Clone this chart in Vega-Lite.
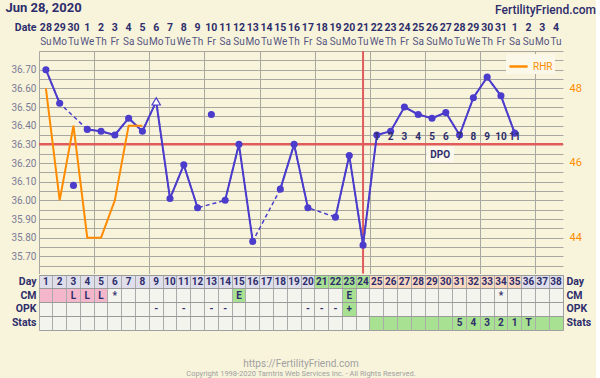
{
  "$schema": "https://vega.github.io/schema/vega-lite/v6.json",
  "background": "#f8f4dc",
  "padding": {"left": 5, "top": 2, "right": 0, "bottom": 0},
  "spacing": -3,
  "title": {"text": "Jun 28, 2020", "anchor": "start", "fontSize": 13, "fontWeight": "bold", "color": "#2e2d6b", "offset": -11, "dx": -5.5},
  "resolve": {"scale": {"stroke": "independent", "fill": "independent"}, "legend": {"stroke": "independent", "fill": "independent"}},
  "datasets": {
    "temps": [
      {"day": 1, "temp": 36.70, "run": "a", "kind": "dot"},
      {"day": 2, "temp": 36.52, "run": "a", "kind": "dot"},
      {"day": 3, "temp": 36.08, "kind": "excluded"},
      {"day": 4, "temp": 36.38, "run": "b", "kind": "dot"},
      {"day": 5, "temp": 36.37, "run": "b", "kind": "dot"},
      {"day": 6, "temp": 36.35, "run": "b", "kind": "dot"},
      {"day": 7, "temp": 36.44, "run": "b", "kind": "dot"},
      {"day": 8, "temp": 36.37, "run": "b", "kind": "dot"},
      {"day": 9, "temp": 36.53, "run": "b", "kind": "open"},
      {"day": 10, "temp": 36.01, "run": "b", "kind": "dot"},
      {"day": 11, "temp": 36.19, "run": "b", "kind": "dot"},
      {"day": 12, "temp": 35.96, "run": "b", "kind": "dot"},
      {"day": 13, "temp": 36.46, "kind": "excluded"},
      {"day": 14, "temp": 36.00, "run": "c", "kind": "dot"},
      {"day": 15, "temp": 36.30, "run": "c", "kind": "dot"},
      {"day": 16, "temp": 35.78, "run": "c", "kind": "dot"},
      {"day": 18, "temp": 36.06, "run": "d", "kind": "dot"},
      {"day": 19, "temp": 36.30, "run": "d", "kind": "dot"},
      {"day": 20, "temp": 35.96, "run": "d", "kind": "dot"},
      {"day": 22, "temp": 35.91, "run": "e", "kind": "dot"},
      {"day": 23, "temp": 36.24, "run": "e", "kind": "dot"},
      {"day": 24, "temp": 35.76, "run": "e", "kind": "dot"},
      {"day": 25, "temp": 36.35, "run": "e", "kind": "dot", "dpo": 1},
      {"day": 26, "temp": 36.37, "run": "e", "kind": "dot", "dpo": 2},
      {"day": 27, "temp": 36.50, "run": "e", "kind": "dot", "dpo": 3},
      {"day": 28, "temp": 36.46, "run": "e", "kind": "dot", "dpo": 4},
      {"day": 29, "temp": 36.44, "run": "e", "kind": "dot", "dpo": 5},
      {"day": 30, "temp": 36.47, "run": "e", "kind": "dot", "dpo": 6},
      {"day": 31, "temp": 36.35, "run": "e", "kind": "dot", "dpo": 7},
      {"day": 32, "temp": 36.55, "run": "e", "kind": "dot", "dpo": 8},
      {"day": 33, "temp": 36.66, "run": "e", "kind": "dot", "dpo": 9},
      {"day": 34, "temp": 36.56, "run": "e", "kind": "dot", "dpo": 10},
      {"day": 35, "temp": 36.36, "run": "e", "kind": "dot", "dpo": 11}
    ],
    "markers": [
      {"coverline": 36.30, "ovulation": 24}
    ],
    "rhr": [
      {"day": 1, "rhr": 48}, {"day": 2, "rhr": 45}, {"day": 3, "rhr": 47}, {"day": 4, "rhr": 44},
      {"day": 5, "rhr": 44}, {"day": 6, "rhr": 45}, {"day": 7, "rhr": 47}, {"day": 8, "rhr": 47}
    ],
    "header": [
      {"day": 1, "date": "28", "wd": "Su"}, {"day": 2, "date": "29", "wd": "Mo"}, {"day": 3, "date": "30", "wd": "Tu"},
      {"day": 4, "date": "1", "wd": "We"}, {"day": 5, "date": "2", "wd": "Th"}, {"day": 6, "date": "3", "wd": "Fr"},
      {"day": 7, "date": "4", "wd": "Sa"}, {"day": 8, "date": "5", "wd": "Su"}, {"day": 9, "date": "6", "wd": "Mo"},
      {"day": 10, "date": "7", "wd": "Tu"}, {"day": 11, "date": "8", "wd": "We"}, {"day": 12, "date": "9", "wd": "Th"},
      {"day": 13, "date": "10", "wd": "Fr"}, {"day": 14, "date": "11", "wd": "Sa"}, {"day": 15, "date": "12", "wd": "Su"},
      {"day": 16, "date": "13", "wd": "Mo"}, {"day": 17, "date": "14", "wd": "Tu"}, {"day": 18, "date": "15", "wd": "We"},
      {"day": 19, "date": "16", "wd": "Th"}, {"day": 20, "date": "17", "wd": "Fr"}, {"day": 21, "date": "18", "wd": "Sa"},
      {"day": 22, "date": "19", "wd": "Su"}, {"day": 23, "date": "20", "wd": "Mo"}, {"day": 24, "date": "21", "wd": "Tu"},
      {"day": 25, "date": "22", "wd": "We"}, {"day": 26, "date": "23", "wd": "Th"}, {"day": 27, "date": "24", "wd": "Fr"},
      {"day": 28, "date": "25", "wd": "Sa"}, {"day": 29, "date": "26", "wd": "Su"}, {"day": 30, "date": "27", "wd": "Mo"},
      {"day": 31, "date": "28", "wd": "Tu"}, {"day": 32, "date": "29", "wd": "We"}, {"day": 33, "date": "30", "wd": "Th"},
      {"day": 34, "date": "31", "wd": "Fr"}, {"day": 35, "date": "1", "wd": "Sa"}, {"day": 36, "date": "2", "wd": "Su"},
      {"day": 37, "date": "3", "wd": "Mo"}, {"day": 38, "date": "4", "wd": "Tu"}
    ],
    "table": [
      {"day": 1, "row": "Day", "fill": "grey", "label": "1"}, {"day": 2, "row": "Day", "fill": "grey", "label": "2"},
      {"day": 3, "row": "Day", "fill": "grey", "label": "3"}, {"day": 4, "row": "Day", "fill": "grey", "label": "4"},
      {"day": 5, "row": "Day", "fill": "grey", "label": "5"}, {"day": 6, "row": "Day", "fill": "grey", "label": "6"},
      {"day": 7, "row": "Day", "fill": "grey", "label": "7"}, {"day": 8, "row": "Day", "fill": "grey", "label": "8"},
      {"day": 9, "row": "Day", "fill": "grey", "label": "9"}, {"day": 10, "row": "Day", "fill": "grey", "label": "10"},
      {"day": 11, "row": "Day", "fill": "grey", "label": "11"}, {"day": 12, "row": "Day", "fill": "grey", "label": "12"},
      {"day": 13, "row": "Day", "fill": "grey", "label": "13"}, {"day": 14, "row": "Day", "fill": "grey", "label": "14"},
      {"day": 15, "row": "Day", "fill": "grey", "label": "15"}, {"day": 16, "row": "Day", "fill": "grey", "label": "16"},
      {"day": 17, "row": "Day", "fill": "grey", "label": "17"}, {"day": 18, "row": "Day", "fill": "grey", "label": "18"},
      {"day": 19, "row": "Day", "fill": "grey", "label": "19"}, {"day": 20, "row": "Day", "fill": "grey", "label": "20"},
      {"day": 21, "row": "Day", "fill": "green", "label": "21"}, {"day": 22, "row": "Day", "fill": "green", "label": "22"},
      {"day": 23, "row": "Day", "fill": "green", "label": "23"}, {"day": 24, "row": "Day", "fill": "green", "label": "24"},
      {"day": 25, "row": "Day", "fill": "peach", "label": "25"}, {"day": 26, "row": "Day", "fill": "peach", "label": "26"},
      {"day": 27, "row": "Day", "fill": "peach", "label": "27"}, {"day": 28, "row": "Day", "fill": "peach", "label": "28"},
      {"day": 29, "row": "Day", "fill": "peach", "label": "29"}, {"day": 30, "row": "Day", "fill": "peach", "label": "30"},
      {"day": 31, "row": "Day", "fill": "peach", "label": "31"}, {"day": 32, "row": "Day", "fill": "peach", "label": "32"},
      {"day": 33, "row": "Day", "fill": "peach", "label": "33"}, {"day": 34, "row": "Day", "fill": "peach", "label": "34"},
      {"day": 35, "row": "Day", "fill": "peach", "label": "35"}, {"day": 36, "row": "Day", "fill": "grey", "label": "36"},
      {"day": 37, "row": "Day", "fill": "grey", "label": "37"}, {"day": 38, "row": "Day", "fill": "grey", "label": "38"},
      {"day": 1, "row": "CM", "fill": "pink"}, {"day": 2, "row": "CM", "fill": "pink"},
      {"day": 3, "row": "CM", "fill": "pink", "label": "L"}, {"day": 4, "row": "CM", "fill": "pink", "label": "L"},
      {"day": 5, "row": "CM", "fill": "pink", "label": "L"}, {"day": 6, "row": "CM", "label": "*"},
      {"day": 15, "row": "CM", "fill": "green", "label": "E"}, {"day": 23, "row": "CM", "fill": "green", "label": "E"},
      {"day": 34, "row": "CM", "label": "*"},
      {"day": 9, "row": "OPK", "label": "-"}, {"day": 11, "row": "OPK", "label": "-"}, {"day": 13, "row": "OPK", "label": "-"},
      {"day": 14, "row": "OPK", "label": "-"}, {"day": 20, "row": "OPK", "label": "-"}, {"day": 21, "row": "OPK", "label": "-"},
      {"day": 22, "row": "OPK", "label": "-"}, {"day": 23, "row": "OPK", "fill": "green", "label": "+"},
      {"day": 25, "row": "Stats", "fill": "green"}, {"day": 26, "row": "Stats", "fill": "green"},
      {"day": 27, "row": "Stats", "fill": "green"}, {"day": 28, "row": "Stats", "fill": "green"},
      {"day": 29, "row": "Stats", "fill": "green"}, {"day": 30, "row": "Stats", "fill": "green"},
      {"day": 31, "row": "Stats", "fill": "green", "label": "5"}, {"day": 32, "row": "Stats", "fill": "green", "label": "4"},
      {"day": 33, "row": "Stats", "fill": "green", "label": "3"}, {"day": 34, "row": "Stats", "fill": "green", "label": "2"},
      {"day": 35, "row": "Stats", "fill": "green", "label": "1"}, {"day": 36, "row": "Stats", "fill": "green", "label": "T"},
      {"day": 37, "row": "Stats", "fill": "green"}, {"day": 38, "row": "Stats", "fill": "green"}
    ]
  },
  "vconcat": [
    {
      "width": 524,
      "height": 27.4,
      "data": {"name": "header"},
      "view": {"stroke": null, "fill": null},
      "title": {"text": "FertilityFriend.com", "anchor": "end", "fontSize": 12, "fontWeight": 500, "color": "#2e2d6b", "offset": 4, "dx": 33},
      "layer": [
        {
          "mark": {"type": "text", "fontWeight": "bold", "fontSize": 10.5, "color": "#2e2d6b"},
          "encoding": {
            "x": {"field": "day", "type": "ordinal", "scale": {"type": "band", "domain": [1,2,3,4,5,6,7,8,9,10,11,12,13,14,15,16,17,18,19,20,21,22,23,24,25,26,27,28,29,30,31,32,33,34,35,36,37,38], "paddingInner": 0, "paddingOuter": 0}, "axis": null},
            "y": {"datum": "d", "type": "nominal", "scale": {"type": "band", "domain": ["d", "w"], "paddingInner": 0, "paddingOuter": 0},
                  "axis": {"labelExpr": "datum.value == 'd' ? 'Date' : ''", "ticks": false, "domain": false, "grid": false, "title": null, "labelFontWeight": "bold", "labelColor": "#2e2d6b", "labelFontSize": 10.5, "labelPadding": 3}},
            "text": {"field": "date"}
          }
        },
        {
          "mark": {"type": "text", "fontSize": 10, "color": "#55557f"},
          "encoding": {
            "x": {"field": "day", "type": "ordinal", "scale": {"type": "band", "domain": [1,2,3,4,5,6,7,8,9,10,11,12,13,14,15,16,17,18,19,20,21,22,23,24,25,26,27,28,29,30,31,32,33,34,35,36,37,38], "paddingInner": 0, "paddingOuter": 0}, "axis": null},
            "y": {"datum": "w", "type": "nominal", "scale": {"type": "band", "domain": ["d", "w"], "paddingInner": 0, "paddingOuter": 0},
                  "axis": {"labelExpr": "datum.value == 'd' ? 'Date' : ''", "ticks": false, "domain": false, "grid": false, "title": null, "labelFontWeight": "bold", "labelColor": "#2e2d6b", "labelFontSize": 10.5, "labelPadding": 3}},
            "text": {"field": "wd"}
          }
        }
      ]
    },
    {
      "width": 524,
      "height": 222.6,
      "view": {"fill": "#f8f4dc", "stroke": null},
      "layer": [
        {
          "data": {"name": "markers"},
          "mark": {"type": "rule", "color": "#e05c5c", "strokeWidth": 2.5},
          "encoding": {
            "y": {"field": "coverline", "type": "quantitative", "scale": {"domain": [35.6075, 36.8], "nice": false, "zero": false},
                  "axis": {"orient": "left", "values": [35.65,35.7,35.75,35.8,35.85,35.9,35.95,36.0,36.05,36.1,36.15,36.2,36.25,36.3,36.35,36.4,36.45,36.5,36.55,36.6,36.65,36.7,36.75,36.8],
                           "labelExpr": "datum.value < 36.78 && round(datum.value * 100) % 10 == 0 ? format(datum.value, '.2f') : ''",
                           "labelOverlap": false, "grid": true, "gridColor": "#a8a8a0", "ticks": false, "domain": false, "title": null,
                           "labelColor": "#7b7b95", "labelFontSize": 10, "labelPadding": 3}}
          }
        },
        {
          "data": {"name": "markers"},
          "mark": {"type": "rule", "color": "#e05c5c", "strokeWidth": 2},
          "encoding": {
            "x": {"field": "ovulation", "type": "quantitative", "scale": {"domain": [0.5, 38.5], "nice": false, "zero": false},
                  "axis": {"orient": "bottom", "values": [0.5,1.5,2.5,3.5,4.5,5.5,6.5,7.5,8.5,9.5,10.5,11.5,12.5,13.5,14.5,15.5,16.5,17.5,18.5,19.5,20.5,21.5,22.5,23.5,24.5,25.5,26.5,27.5,28.5,29.5,30.5,31.5,32.5,33.5,34.5,35.5,36.5,37.5,38.47], "grid": true, "gridColor": "#a8a8a0", "labels": false, "ticks": false, "domain": false, "title": null, "minExtent": 0, "maxExtent": 0}}
          }
        },
        {
          "data": {"name": "temps"},
          "transform": [{"filter": "datum.kind != 'excluded'"}],
          "mark": {"type": "line", "color": "#4b3ccc", "strokeWidth": 1.5, "strokeDash": [4, 3]},
          "encoding": {
            "x": {"field": "day", "type": "quantitative"},
            "y": {"field": "temp", "type": "quantitative", "scale": {"domain": [35.6075, 36.8], "nice": false, "zero": false}, "axis": null}
          }
        },
        {
          "data": {"name": "temps"},
          "transform": [{"filter": "datum.kind != 'excluded'"}],
          "mark": {"type": "line", "color": "#4b3ccc", "strokeWidth": 2},
          "encoding": {
            "x": {"field": "day", "type": "quantitative"},
            "y": {"field": "temp", "type": "quantitative", "scale": {"domain": [35.6075, 36.8], "nice": false, "zero": false}, "axis": null},
            "detail": {"field": "run"}
          }
        },
        {
          "data": {"name": "temps"},
          "transform": [{"filter": "datum.kind != 'open'"}],
          "mark": {"type": "circle", "color": "#4b3ccc", "size": 50, "opacity": 1},
          "encoding": {
            "x": {"field": "day", "type": "quantitative"},
            "y": {"field": "temp", "type": "quantitative", "scale": {"domain": [35.6075, 36.8], "nice": false, "zero": false}, "axis": null}
          }
        },
        {
          "data": {"name": "temps"},
          "transform": [{"filter": "datum.kind == 'open'"}],
          "mark": {"type": "point", "shape": "triangle-up", "filled": true, "fill": "#ffffff", "stroke": "#4b3ccc", "strokeWidth": 1.2, "size": 70, "opacity": 1},
          "encoding": {
            "x": {"field": "day", "type": "quantitative"},
            "y": {"field": "temp", "type": "quantitative", "scale": {"domain": [35.6075, 36.8], "nice": false, "zero": false}, "axis": null}
          }
        },
        {
          "data": {"name": "temps"},
          "transform": [{"filter": "isValid(datum.dpo)"}],
          "mark": {"type": "text", "fontWeight": "bold", "fontSize": 10, "color": "#2e2d6b", "baseline": "middle"},
          "encoding": {
            "x": {"field": "day", "type": "quantitative"},
            "y": {"datum": 36.34, "type": "quantitative", "scale": {"domain": [35.6075, 36.8], "nice": false, "zero": false}, "axis": null},
            "text": {"field": "dpo"}
          }
        },
        {
          "data": {"values": [{"t": "DPO"}]},
          "mark": {"type": "rect", "fill": "#fcf9ec"},
          "encoding": {
            "x": {"datum": 28.6, "type": "quantitative"},
            "x2": {"datum": 30.6},
            "y": {"datum": 36.288, "type": "quantitative", "scale": {"domain": [35.6075, 36.8], "nice": false, "zero": false}, "axis": null},
            "y2": {"datum": 36.205}
          }
        },
        {
          "data": {"values": [{"t": "DPO"}]},
          "mark": {"type": "text", "fontWeight": "bold", "fontSize": 10, "color": "#2e2d6b", "baseline": "middle"},
          "encoding": {
            "x": {"datum": 29.6, "type": "quantitative"},
            "y": {"datum": 36.245, "type": "quantitative", "scale": {"domain": [35.6075, 36.8], "nice": false, "zero": false}, "axis": null},
            "text": {"field": "t"}
          }
        },
        {
          "data": {"name": "rhr"},
          "mark": {"type": "line", "strokeWidth": 2},
          "encoding": {
            "x": {"field": "day", "type": "quantitative"},
            "y": {"field": "rhr", "type": "quantitative", "scale": {"domain": [43.037, 49], "nice": false, "zero": false},
                  "axis": {"orient": "right", "values": [44, 46, 48], "grid": false, "ticks": false, "domain": false, "title": null, "labelColor": "#ff8c00", "labelFontSize": 11, "labelPadding": 6}},
            "stroke": {"datum": "RHR", "type": "nominal", "scale": {"range": ["#ff8c00"]},
                       "legend": {"orient": "none", "legendX": 467, "legendY": 3, "title": null, "symbolType": "stroke", "symbolStrokeWidth": 2.5, "symbolSize": 330, "labelColor": "#ff8c00", "labelFontSize": 10, "fillColor": "#fbf8ea", "padding": 2}}
          }
        }
      ],
      "resolve": {"scale": {"y": "independent"}}
    },
    {
      "width": 524,
      "height": 55,
      "data": {"name": "table"},
      "view": {"fill": "#f4f4ee", "stroke": "#a0a0a0"},
      "title": {"text": "https://FertilityFriend.com", "subtitle": "Copyright 1998-2020 Tamtris Web Services Inc. - All Rights Reserved.", "orient": "bottom", "anchor": "middle", "fontSize": 10, "fontWeight": "normal", "color": "#a0a0a0", "subtitleFontSize": 7.5, "subtitleColor": "#a0a0a0", "subtitlePadding": 1, "offset": 29},
      "layer": [
        {
          "transform": [{"filter": "datum.fill != null"}],
          "mark": {"type": "rect"},
          "encoding": {
            "x": {"field": "day", "type": "ordinal", "scale": {"type": "band", "domain": [1,2,3,4,5,6,7,8,9,10,11,12,13,14,15,16,17,18,19,20,21,22,23,24,25,26,27,28,29,30,31,32,33,34,35,36,37,38], "paddingInner": 0, "paddingOuter": 0},
                  "axis": {"grid": true, "bandPosition": 0, "gridColor": "#ababab", "labels": false, "ticks": false, "domain": false, "title": null, "zindex": 1, "minExtent": 0, "maxExtent": 0}},
            "y": {"field": "row", "type": "nominal", "scale": {"type": "band", "domain": ["Day", "CM", "OPK", "Stats"], "paddingInner": 0, "paddingOuter": 0},
                  "axis": {"orient": "left", "grid": true, "bandPosition": 0, "gridColor": "#9a9a9a", "ticks": false, "domain": false, "title": null, "zindex": 1, "labelFontWeight": "bold", "labelColor": "#2e2d6b", "labelFontSize": 10.5, "labelPadding": 3}},
            "fill": {"field": "fill", "type": "nominal", "scale": {"domain": ["grey", "green", "peach", "pink"], "range": ["#dfdfeb", "#a9e192", "#fad9c3", "#f4b6ca"]}, "legend": null}
          }
        },
        {
          "transform": [{"filter": "datum.label != null"}],
          "mark": {"type": "text", "fontWeight": "bold", "fontSize": 10, "color": "#2e2d6b"},
          "encoding": {
            "x": {"field": "day", "type": "ordinal", "scale": {"type": "band", "domain": [1,2,3,4,5,6,7,8,9,10,11,12,13,14,15,16,17,18,19,20,21,22,23,24,25,26,27,28,29,30,31,32,33,34,35,36,37,38], "paddingInner": 0, "paddingOuter": 0},
                  "axis": {"grid": true, "bandPosition": 0, "gridColor": "#ababab", "labels": false, "ticks": false, "domain": false, "title": null, "zindex": 1, "minExtent": 0, "maxExtent": 0}},
            "y": {"field": "row", "type": "nominal", "scale": {"type": "band", "domain": ["Day", "CM", "OPK", "Stats"], "paddingInner": 0, "paddingOuter": 0},
                  "axis": {"orient": "right", "grid": false, "ticks": false, "domain": false, "title": null, "labelFontWeight": "bold", "labelColor": "#2e2d6b", "labelFontSize": 10.5, "labelPadding": 3}},
            "text": {"field": "label"}
          }
        }
      ],
      "resolve": {"scale": {"y": "independent"}}
    }
  ],
  "config": {
    "font": "Roboto",
    "axis": {"labelFont": "Roboto"},
    "title": {"font": "Roboto", "subtitleFont": "Roboto"}
  }
}
